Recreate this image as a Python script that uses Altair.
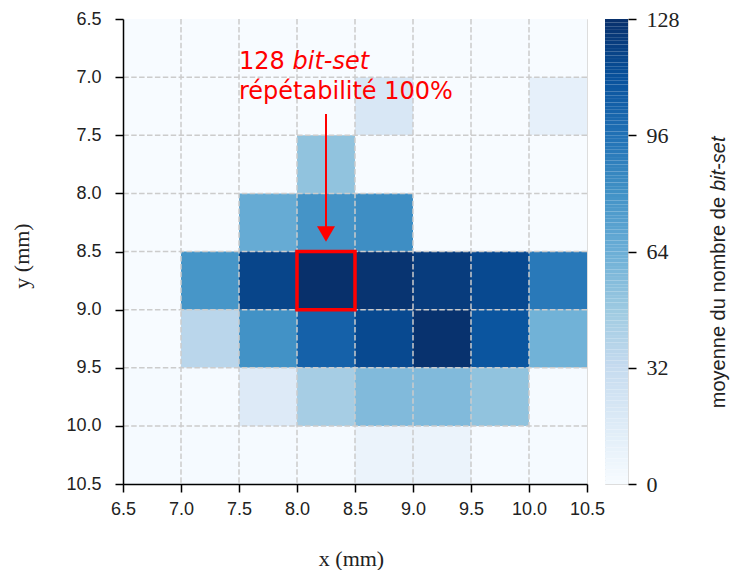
import altair as alt
import pandas as pd

# Grid edges (mm)
x_edges = [6.5, 7.0, 7.5, 8.0, 8.5, 9.0, 9.5, 10.0, 10.5]
y_edges = [6.5, 7.0, 7.5, 8.0, 8.5, 9.0, 9.5, 10.0, 10.5]

# mean number of bit-set per cell, rows from y=6.5 (top) to 10.5 (bottom)
row_6_5 = [0, 0, 0, 0, 0, 0, 0, 0]
row_7_0 = [0, 0, 0, 0, 20, 0, 0, 11]
row_7_5 = [0, 0, 0, 52, 0, 0, 0, 0]
row_8_0 = [0, 0, 66, 79, 82, 0, 0, 0]
row_8_5 = [0, 78, 118, 128, 126, 122, 116, 92]
row_9_0 = [0, 37, 80, 104, 116, 127, 110, 62]
row_9_5 = [1, 1, 17, 45, 57, 57, 52, 1]
row_10_0 = [1, 1, 1, 1, 8, 8, 1, 1]
rows = [row_6_5, row_7_0, row_7_5, row_8_0, row_8_5, row_9_0, row_9_5, row_10_0]

tick_values = [6.5, 7.0, 7.5, 8.0, 8.5, 9.0, 9.5, 10.0, 10.5]
grid_values = [7.0, 7.5, 8.0, 8.5, 9.0, 9.5, 10.0]
cbar_ticks = [0, 32, 64, 96, 128]
cbar_levels = list(range(128))

# "Blues" colormap stops
blues_stops = [0, 16, 32, 48, 64, 80, 96, 112, 128]
blues_colors = ["#f7fbff", "#deebf7", "#c6dbef", "#9ecae1", "#6baed6",
                "#4292c6", "#2171b5", "#08519c", "#08306b"]

records = []
for i, row in enumerate(rows):
    for j, v in enumerate(row):
        records.append({"x0": x_edges[j], "x1": x_edges[j + 1],
                        "y0": y_edges[i], "y1": y_edges[i + 1], "val": v})
df = pd.DataFrame(records)

W, H = 464, 465
SANS = "Liberation Sans"
SERIF = "Liberation Serif"

color_scale = alt.Scale(domain=blues_stops, range=blues_colors, interpolate="rgb")
xscale = alt.Scale(domain=[6.5, 10.5], nice=False, zero=False)
yscale = alt.Scale(domain=[6.5, 10.5], nice=False, zero=False, reverse=True)

axis_common = dict(grid=False, tickColor="black", tickWidth=1.5, tickSize=8,
                   domainColor="black", domainWidth=1.5, labelFlush=False,
                   labelFont=SANS, labelFontSize=18, labelColor="#222222",
                   titleFont=SERIF, titleFontSize=22, titleFontWeight="normal",
                   titleColor="#222222", zindex=1, values=tick_values)

xaxis = alt.Axis(title="x (mm)", format=".1f", labelPadding=8,
                 titleX=W / 2 - 4, titleY=74, titleBaseline="middle", **axis_common)
yaxis = alt.Axis(title="y (mm)", format=".1f", labelPadding=14,
                 titleX=-102, titleY=H / 2 + 4, titleAngle=270, titleBaseline="middle",
                 titleAlign="center", **axis_common)

heat = alt.Chart(df).mark_rect().encode(
    x=alt.X("x0:Q", scale=xscale, axis=xaxis),
    x2="x1:Q",
    y=alt.Y("y0:Q", scale=yscale, axis=yaxis),
    y2="y1:Q",
    color=alt.Color("val:Q", scale=color_scale, legend=None),
)

# dashed grid lines above the cells
gdf = pd.DataFrame({"g": grid_values})
vgrid = alt.Chart(gdf).mark_rule(color="#cccccc", strokeWidth=1.5, strokeDash=[5.5, 2.4]).encode(
    x=alt.X("g:Q", scale=xscale))
hgrid = alt.Chart(gdf).mark_rule(color="#cccccc", strokeWidth=1.5, strokeDash=[5.5, 2.4]).encode(
    y=alt.Y("g:Q", scale=yscale))

# highlight box
hl = pd.DataFrame({"x0": [8.0], "x1": [8.5], "y0": [8.5], "y1": [9.0]})
box = alt.Chart(hl).mark_rect(fill=None, fillOpacity=0, stroke="red", strokeWidth=3.5).encode(
    x=alt.X("x0:Q", scale=xscale), x2="x1:Q",
    y=alt.Y("y0:Q", scale=yscale), y2="y1:Q",
)

# arrow
arr = pd.DataFrame({"x": [8.25], "y0": [7.317], "y1": [8.30], "yh": [8.35]})
shaft = alt.Chart(arr).mark_rule(color="red", strokeWidth=2).encode(
    x=alt.X("x:Q", scale=xscale), y=alt.Y("y0:Q", scale=yscale), y2="y1:Q")
head = alt.Chart(arr).mark_point(shape="triangle-down", filled=True, color="red",
                                 size=324, opacity=1).encode(
    x=alt.X("x:Q", scale=xscale), y=alt.Y("yh:Q", scale=yscale))

# annotation text
ann1 = pd.DataFrame({"x": [7.5], "y": [6.93], "t": ["128"]})
ann1b = pd.DataFrame({"x": [7.5], "y": [6.93], "t": ["bit-set"]})
ann2 = pd.DataFrame({"x": [7.5], "y": [7.188], "t": ["répétabilité 100%"]})
txt_kw = dict(font="DejaVu Sans", fontSize=24, color="red", align="left", baseline="alphabetic")
t1 = alt.Chart(ann1).mark_text(**txt_kw).encode(
    x=alt.X("x:Q", scale=xscale), y=alt.Y("y:Q", scale=yscale), text="t:N")
t1b = alt.Chart(ann1b).mark_text(fontStyle="italic", dx=53.5, **txt_kw).encode(
    x=alt.X("x:Q", scale=xscale), y=alt.Y("y:Q", scale=yscale), text="t:N")
t2 = alt.Chart(ann2).mark_text(**txt_kw).encode(
    x=alt.X("x:Q", scale=xscale), y=alt.Y("y:Q", scale=yscale), text="t:N")

main = alt.layer(heat, vgrid, hgrid, box, shaft, head, t1, t1b, t2).properties(width=W, height=H)

# colorbar
cb = pd.DataFrame({"lo": cbar_levels})
cb["hi"] = cb["lo"] + 1
cb["mid"] = cb["lo"] + 0.5
cbar_rect = alt.Chart(cb).mark_rect().encode(
    x=alt.value(0), x2=alt.value(23),
    y=alt.Y("lo:Q", scale=alt.Scale(domain=[0, 128], nice=False),
            axis=alt.Axis(orient="right", values=cbar_ticks, title=None, grid=False,
                          tickColor="black", tickWidth=1.5, tickSize=8, labelPadding=10,
                          domain=False, labelFlush=False, labelFont=SERIF, labelFontSize=22,
                          labelColor="#222222", zindex=1)),
    y2="hi:Q",
    color=alt.Color("mid:Q", scale=color_scale, legend=None),
)
ct1 = pd.DataFrame({"t": ["moyenne du nombre de"]})
ct2 = pd.DataFrame({"t": ["bit-set"]})
ctitle1 = alt.Chart(ct1).mark_text(font=SANS, fontSize=20, angle=270, align="right",
                                   baseline="middle", color="#222222").encode(
    x=alt.value(114), y=alt.value(178), text="t:N")
ctitle2 = alt.Chart(ct2).mark_text(font=SANS, fontSize=20, angle=270, align="left",
                                   baseline="middle", color="#222222", fontStyle="italic").encode(
    x=alt.value(114), y=alt.value(172), text="t:N")
cbar = alt.layer(cbar_rect, ctitle1, ctitle2).properties(width=23, height=H)

chart = alt.hconcat(main, cbar, spacing=18, bounds="flush").resolve_scale(
    color="independent", y="independent"
).properties(
    padding={"left": 9, "top": 7, "right": 0, "bottom": 0}
).configure_view(stroke="black", strokeWidth=1.5).configure(background="white")

chart.save("out.html", embed_options={"renderer": "svg", "actions": False})
